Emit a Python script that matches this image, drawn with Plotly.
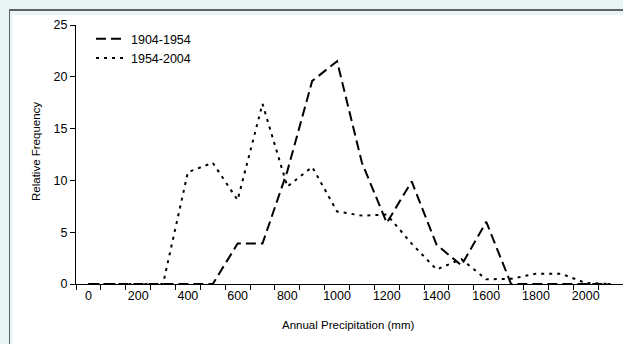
import plotly.graph_objects as go

precip = [0, 100, 200, 300, 400, 500, 600, 700, 800, 900, 1000,
          1100, 1200, 1300, 1400, 1500, 1600, 1700, 1800, 1900, 2000, 2100]
freq_1904_1954 = [0, 0, 0, 0, 0, 0, 3.9, 3.9, 10.9, 19.6, 21.5,
                  11.7, 5.9, 9.9, 3.8, 1.8, 6.0, 0, 0, 0, 0, 0]
freq_1954_2004 = [0, 0, 0, 0, 10.8, 11.7, 8.1, 17.4, 9.4, 11.3, 7.0,
                  6.6, 6.7, 3.9, 1.4, 2.4, 0.45, 0.5, 1.0, 1.0, 0.1, 0]
x_tick_labels = [0, 200, 400, 600, 800, 1000, 1200, 1400, 1600, 1800, 2000]
y_tick_labels = [0, 5, 10, 15, 20, 25]

W, H = 623, 344
ML, MR, MT, MB = 76, 0, 25, 60
PW, PH = W - ML - MR, H - MT - MB

def px(x):
    return (x - ML) / PW

def py(y):
    return (H - MB - y) / PH

FONT = "Liberation Sans, Arial, sans-serif"
BG = "#e9f4f4"

fig = go.Figure()
fig.add_trace(go.Scatter(x=precip, y=freq_1904_1954, mode="lines", name="1904-1954",
                         line=dict(color="black", width=2, dash="10px,5px")))
fig.add_trace(go.Scatter(x=precip, y=freq_1954_2004, mode="lines", name="1954-2004",
                         line=dict(color="black", width=2, dash="3px,5px")))

shapes = [
    dict(type="rect", xref="paper", yref="paper", x0=px(9), x1=px(700), y0=py(9), y1=py(400),
         fillcolor="#5f6363", line=dict(width=0), layer="below"),
    dict(type="rect", xref="paper", yref="paper", x0=px(10), x1=px(700), y0=py(11), y1=py(400),
         fillcolor=BG, line=dict(width=0), layer="below"),
    dict(type="rect", xref="paper", yref="paper", x0=px(13), x1=px(700), y0=py(15), y1=py(400),
         fillcolor="white", line=dict(width=0), layer="below"),
]

fig.update_layout(
    width=W, height=H,
    margin=dict(l=ML, r=MR, t=MT, b=MB),
    paper_bgcolor=BG, plot_bgcolor="rgba(0,0,0,0)",
    font=dict(family=FONT, size=12, color="black"),
    shapes=shapes,
    showlegend=True,
    legend=dict(x=px(91), y=py(24), xanchor="left", yanchor="top",
                bgcolor="rgba(0,0,0,0)", font=dict(size=12.5, color="black"), tracegroupgap=0,
                itemwidth=30),
    xaxis=dict(range=[-50, 2150], tickvals=x_tick_labels, ticktext=[str(v) for v in x_tick_labels],
               ticks="", showgrid=False, zeroline=False, showline=True, linecolor="black",
               linewidth=1, tickfont=dict(size=12.5, color="black"), automargin=False,
               minor=dict(ticks="outside", ticklen=5, tickcolor="black", tickwidth=1,
                          tick0=-50, dtick=100, showgrid=False)),
    yaxis=dict(range=[0, 25], tickvals=y_tick_labels, ticks="outside", ticklen=5,
               tickcolor="black", showgrid=False, zeroline=False, showline=True,
               linecolor="black", linewidth=1, tickfont=dict(size=12.5, color="black"),
               automargin=False),
    annotations=[
        dict(text="Relative Frequency", xref="paper", yref="paper", x=px(36), y=py(152),
             xanchor="center", yanchor="middle",
             textangle=-90, showarrow=False, font=dict(size=11.5, color="black")),
        dict(text="Annual Precipitation (mm)", xref="paper", yref="paper", x=px(348), y=py(325),
             xanchor="center", yanchor="middle",
             showarrow=False, font=dict(size=11.5, color="black")),
    ],
)

fig.write_html("out.html", config={"displayModeBar": False},
               post_script="document.body.style.margin='0px';document.body.style.overflow='hidden';")
